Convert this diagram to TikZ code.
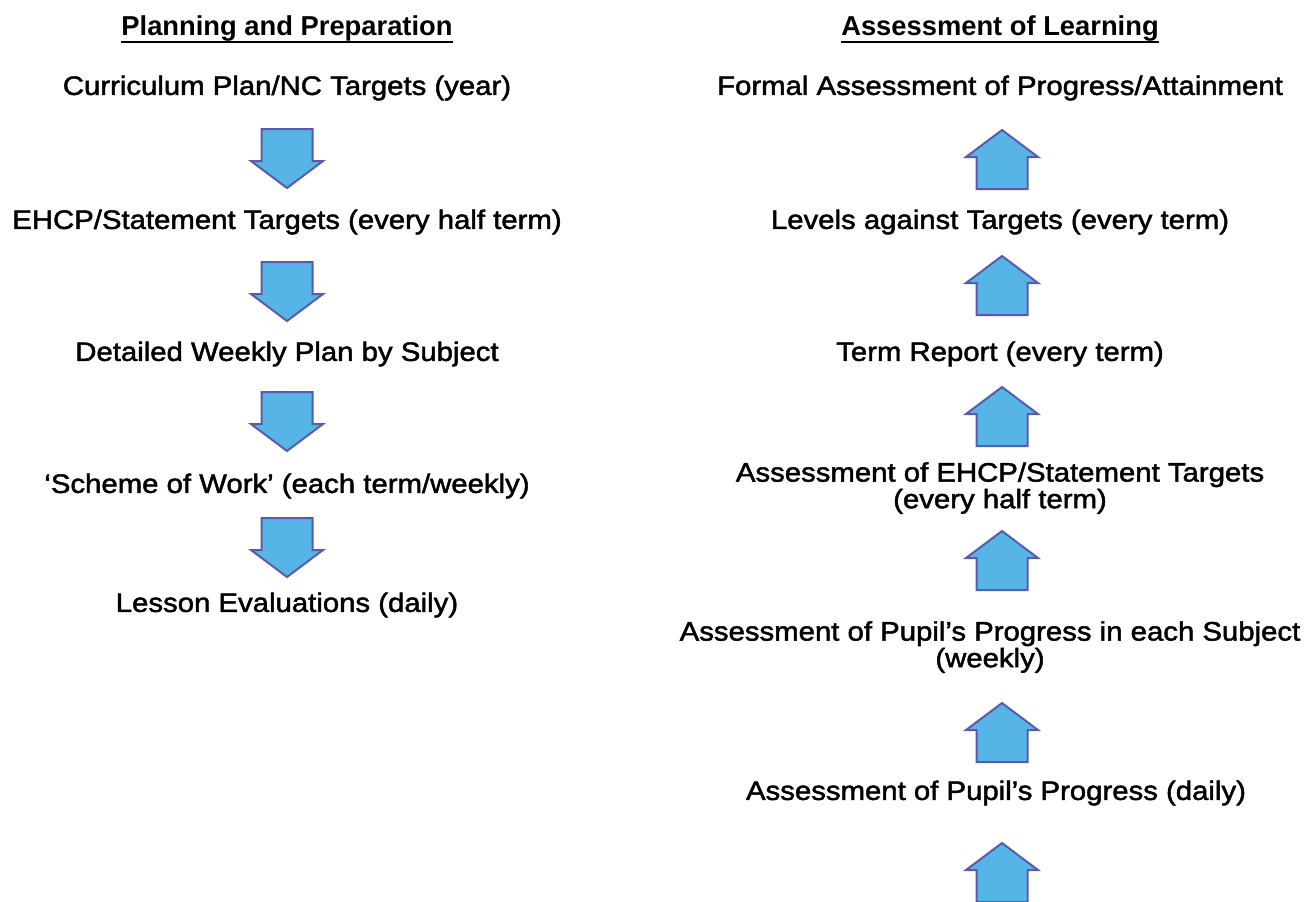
\documentclass[tikz,border=0pt]{standalone}
\usepackage{fontspec}
\setmainfont{Liberation Sans}[UprightFeatures={FakeBold=1.8, FakeStretch=1.1}]
\usepackage{tikz}
\definecolor{arrowfill}{HTML}{56B4E6}
\definecolor{arrowline}{HTML}{5A5AAA}
\tikzstyle{titletext} = [font=\fontsize{20.5}{24}\selectfont\bfseries, text=black, inner sep=0pt]
\tikzstyle{steptext} = [font=\fontsize{20}{20}\selectfont, text=black, align=center, inner sep=0pt]
\tikzstyle{blockarrow} = [draw=arrowline, fill=arrowfill, line width=1.5pt, line join=miter]

\begin{document}
\begin{tikzpicture}[x=0.75pt, y=-0.75pt]
\useasboundingbox (0,0) rectangle (1316,901);
\clip (0,0) rectangle (1316,901);

% planning column
\node[titletext] (plan) at (287,28) {Planning and Preparation};
\draw[line width=1.5pt] ([yshift=-1pt]plan.south west) -- ([yshift=-1pt]plan.south east);
\node[steptext] (curr) at (287,88) {Curriculum Plan/NC Targets (year)};
\node[steptext] (ehcp) at (287,222) {EHCP/Statement Targets (every half term)};
\node[steptext] (weekly) at (287,354) {Detailed Weekly Plan by Subject};
\node[steptext] (scheme) at (287,486) {‘Scheme of Work’ (each term/weekly)};
\node[steptext] (lesson) at (287,605) {Lesson Evaluations (daily)};

\foreach \t in {129,262,392,518}
  \draw[blockarrow, shift={(287,\t)}] (-25.5,0) -- (25.5,0) -- (25.5,32) -- (36,32)
    -- (0,59) -- (-36,32) -- (-25.5,32) -- cycle;

% assessment column
\node[titletext] (learn) at (1000,28) {Assessment of Learning};
\draw[line width=1.5pt] ([yshift=-1pt]learn.south west) -- ([yshift=-1pt]learn.south east);
\node[steptext] (formal) at (1000,88) {Formal Assessment of Progress/Attainment};
\node[steptext] (levels) at (1000,222) {Levels against Targets (every term)};
\node[steptext] (report) at (1000,354) {Term Report (every term)};
\node[steptext] (assess) at (1000,488) {Assessment of EHCP/Statement Targets\\(every half term)};
\node[steptext] (subject) at (990,647) {Assessment of Pupil’s Progress in each Subject\\(weekly)};
\node[steptext] (daily) at (996,793) {Assessment of Pupil’s Progress (daily)};

\foreach \t in {130,256,387,531,703,843}
  \draw[blockarrow, shift={(1002,\t)}] (0,0) -- (36,27) -- (25.5,27) -- (25.5,59)
    -- (-25.5,59) -- (-25.5,27) -- (-36,27) -- cycle;
\end{tikzpicture}
\end{document}
